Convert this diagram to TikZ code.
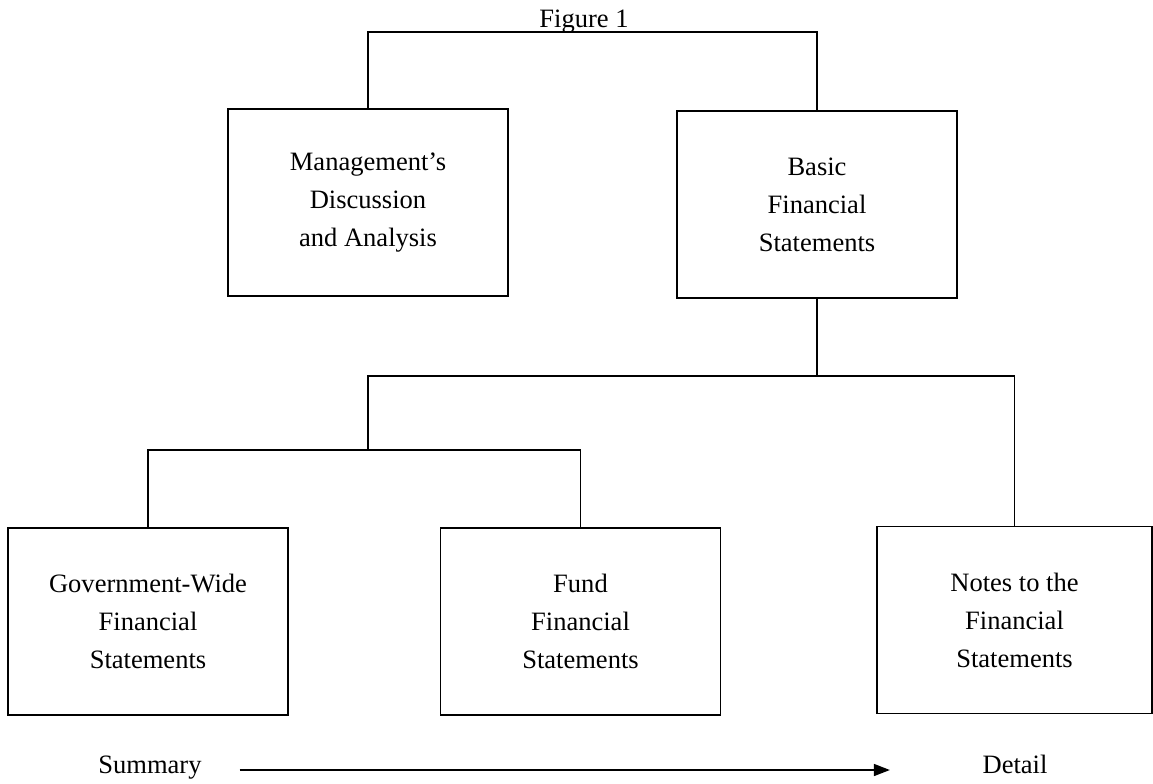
\documentclass[tikz,border=0pt]{standalone}
\usepackage{fontspec}
\setmainfont{Liberation Serif}
\usetikzlibrary{arrows.meta}

\begin{document}
\begin{tikzpicture}[x=0.75pt,y=-0.75pt]

% Styles: framed boxes, loose texts and the connecting lines
\tikzstyle{box}=[draw,line width=1.2pt,align=center,minimum width=210pt,minimum height=140pt,inner sep=0pt,font=\fontsize{19.9pt}{28.5pt}\selectfont]
\tikzstyle{txt}=[font=\fontsize{19.9pt}{24pt}\selectfont,text height=1.5ex,text depth=.25ex]
\tikzstyle{link}=[line width=1.2pt]

\def\tw{206pt}    % Width of the notes box, a little narrower

\useasboundingbox (0,0) rectangle (1153,783);

% Title
\node [txt,anchor=base] (fig) at (584,27) {Figure 1};

% Top row
\node [box] (mda) at (368,202.5) {Management’s\\Discussion\\and Analysis};
\node [box] (bfs) at (817,204.5) {Basic\\Financial\\Statements};

% Bottom row
\node [box] (gov) at (148,621.5) {Government-Wide\\Financial\\Statements};
\node [box] (fund) at (580.5,621.5) {Fund\\Financial\\Statements};
\node [box,minimum width=\tw] (notes) at (1014.5,620) {Notes to the\\Financial\\Statements};

% Junction points of the tree
\coordinate (topbar) at (584,32);
\coordinate (bar) at (817,376);
\coordinate (hub) at (368,450);

% Tree lines
\draw [link] (mda.north) |- (topbar) -| (bfs.north);
\draw [link] (bfs.south) -- (bar);
\draw [link] (hub) |- (bar) -| (notes.north);
\draw [link] (gov.north) |- (hub) -| (fund.north);

% Summary -> Detail arrow along the bottom
\node [txt] (summary) at (150,770) {Summary};
\node [txt] (detail) at (1015,770) {Detail};
\draw [link,-{Triangle[length=12pt,width=9pt]},shorten <=25pt,shorten >=66pt] (summary) -- (detail);

\end{tikzpicture}
\end{document}
